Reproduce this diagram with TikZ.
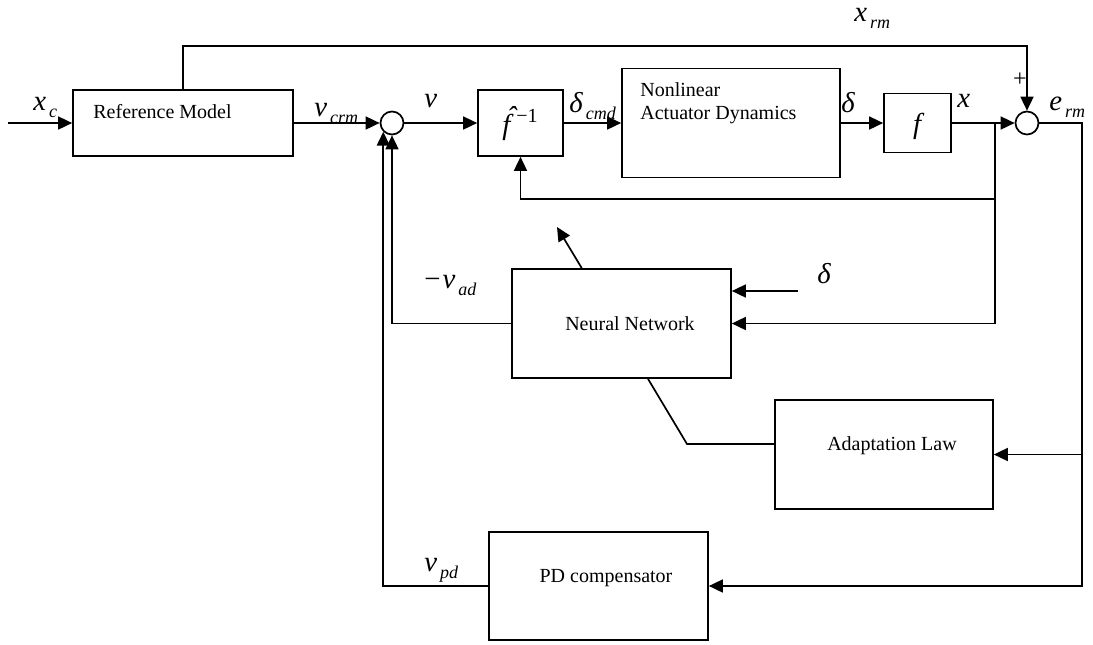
\documentclass[tikz,border=0pt]{standalone}
\usepackage{fontspec}
\setmainfont{Liberation Serif}
\usetikzlibrary{
    arrows.meta,
    positioning,
    calc
}
\tikzset{
    blk/.style={draw, line width=0.85pt, inner sep=0pt},
    sumjn/.style={draw, circle, line width=0.85pt, minimum size=11.5pt, inner sep=0pt},
    sig/.style={-{Triangle[length=7pt,width=6.5pt]}, line width=0.85pt},
    wire/.style={line width=0.85pt},
    lbl/.style={anchor=base west, inner sep=0pt},
    txt/.style={anchor=base, inner sep=0pt}
}
\newcommand{\sigl}[2]{{\Large\itshape #1}\kern1.5pt\raisebox{-3.5pt}{\small\itshape #2}}

\begin{document}
\begin{tikzpicture}[x=0.5pt,y=-0.5pt]
%
    \useasboundingbox (0,0) rectangle (1093,644);
%
    % Blocks
%
    \node[
        blk,
        minimum width=110pt,
        minimum height=33pt
    ] (refm) at (183,123) {};
    \node[
        txt,
        anchor=base west
    ] (refm-txt) at (93,118) {Reference Model};
%
    \node[sumjn] (sum1) at (392,123) {};
%
    \node[
        blk,
        minimum width=42.5pt,
        minimum height=33pt
    ] (fhat) at (520.5,123) {};
    \node[txt] (fhat-txt) at (520,134) {%
        {\Large\itshape\makebox[0pt][l]{\kern0.16em\raisebox{0.26em}{ˆ}}f}%
        \kern3pt\raisebox{6pt}{−1}};
%
    \node[
        blk,
        minimum width=109pt,
        minimum height=54.5pt
    ] (nad) at (731,123) {};
    \node[
        txt,
        anchor=base west
    ] (nad-txt1) at (640,96) {Nonlinear};
    \node[
        txt,
        anchor=base west
    ] (nad-txt2) at (640,119) {Actuator Dynamics};
%
    \node[
        blk,
        minimum width=33.5pt,
        minimum height=29.5pt
    ] (fblk) at (917.5,123) {};
    \node[txt] (fblk-txt) at (917,133) {\Large\itshape f};
%
    \node[sumjn] (sum2) at (1027,123) {};
%
    \node[
        blk,
        minimum width=109.5pt,
        minimum height=54.5pt
    ] (nn) at (621.5,323.5) {};
    \node[txt] (nn-txt) at (630,330) {Neural Network};
%
    \node[
        blk,
        minimum width=109pt,
        minimum height=54.5pt
    ] (al) at (884,454.5) {};
    \node[txt] (al-txt) at (892,450) {Adaptation Law};
%
    \node[
        blk,
        minimum width=109.5pt,
        minimum height=54pt
    ] (pd) at (598.5,586) {};
    \node[txt] (pd-txt) at (606,582) {PD compensator};
%
    % Free ends and bends
%
    \coordinate (xc-in) at (8,123);
    \coordinate (xrm-lane) at (0,46);
    \coordinate (xjunc) at (995,123);
    \coordinate (fb-lane) at (0,199);
    \coordinate (erm-turn) at (1082,123);
    \coordinate (delta-in) at (798,291);
    \coordinate (tune-tip) at (557,227);
    \coordinate (al-bend) at (687,444);
%
    % Forward path
%
    \draw[sig] (xc-in) -- (refm.west);
    \draw[sig] (refm.north) -- (refm.north |- xrm-lane) -| (sum2.north);
    \draw[sig] (refm.east) -- (sum1.west);
    \draw[sig] (sum1.east) -- (fhat.west);
    \draw[sig] (fhat.east) -- (nad.west);
    \draw[sig] (nad.east) -- (fblk.west);
    \draw[sig] (fblk.east) -- (sum2.west);
%
    % Feedback of x
%
    \draw[sig] (xjunc) |- (nn.east);
    \draw[sig] (xjunc |- fb-lane) -| (fhat.south);
%
    % Tracking error
%
    \draw[sig] (sum2.east) -- (erm-turn) |- (pd.east);
    \draw[sig] (erm-turn |- al.east) -- (al.east);
%
    % Neural network
%
    \draw[sig] (delta-in) -- (delta-in -| nn.east);
    \draw[sig] (nn.west) -| (sum1.south);
    \draw[sig] ($(nn.north west)!0.32!(nn.north east)$) -- (tune-tip);
    \draw[wire] ($(nn.south west)!0.62!(nn.south east)$) -- (al-bend) -- (al-bend -| al.west);
%
    % PD compensator
%
    \draw[sig] (pd.west) -| (sum1.south west);
%
    % Signal labels
%
    \node[lbl] (xc-lbl) at (33,110) {\sigl{x}{c}};
    \node[lbl] (vcrm-lbl) at (314,116) {\sigl{ν}{crm}};
    \node[lbl] (v-lbl) at (424,107) {\Large\itshape ν};
    \node[lbl] (dcmd-lbl) at (569,112) {\sigl{δ}{cmd}};
    \node[lbl] (d-lbl) at (841,112) {\Large\itshape δ};
    \node[lbl] (x-lbl) at (957,107) {\Large\itshape x};
    \node[lbl] (erm-lbl) at (1049,110) {\sigl{e}{rm}};
    \node[lbl] (xrm-lbl) at (854,21) {\sigl{x}{rm}};
    \node[inner sep=0pt] (plus-lbl) at (1020,80) {\large +};
    \node[lbl] (vad-lbl) at (424,288) {{\Large −}\kern1pt\sigl{ν}{ad}};
    \node[lbl] (dnn-lbl) at (817,283) {\Large\itshape δ};
    \node[lbl] (vpd-lbl) at (424,571) {\sigl{ν}{pd}};
%
\end{tikzpicture}
\end{document}
